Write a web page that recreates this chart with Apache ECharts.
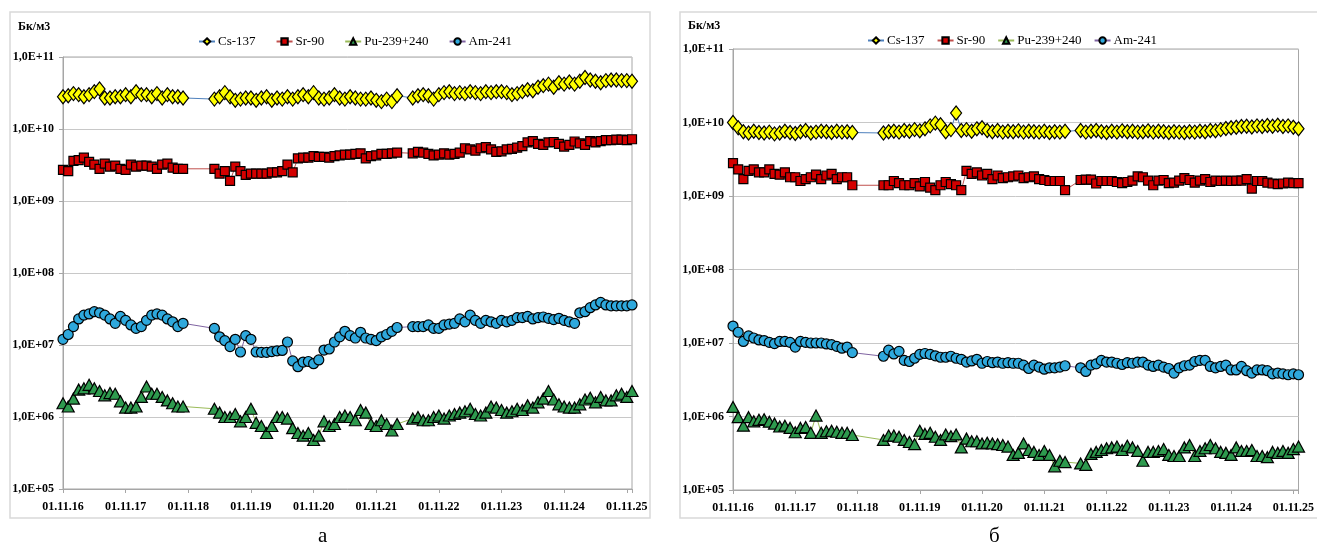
<!DOCTYPE html>
<html>
<head>
<meta charset="utf-8">
<script src="https://cdn.jsdelivr.net/npm/echarts@6/dist/echarts.min.js"></script>
<style>
html,body{margin:0;padding:0;background:#fff}
#chart{width:1317px;height:549px}
</style>
</head>
<body>
<div id="chart"></div>
<script>
// monthly samples, gaps between the periods
var periods = [['2016-11','2018-10'],['2019-04','2022-03'],['2022-06','2025-12']];
var xTickLabels = ['01.11.16','01.11.17','01.11.18','01.11.19','01.11.20','01.11.21','01.11.22','01.11.23','01.11.24','01.11.25'];
var yTickLabels = ['1,0E+05','1,0E+06','1,0E+07','1,0E+08','1,0E+09','1,0E+10','1,0E+11'];
var names = ['Cs-137','Sr-90','Pu-239+240','Am-241'];

// panel а
var csA = [2.8,2.9,3.1,3.0,2.8,3.0,3.3,3.6,2.7,2.7,2.8,2.8,3.0,2.8,3.3,3.0,3.0,2.8,3.1,2.7,3.0,2.8,2.8,2.7,
  2.6,2.8,3.2,2.8,2.5,2.6,2.7,2.7,2.5,2.7,2.8,2.5,2.7,2.6,2.8,2.6,2.8,3.0,2.8,3.2,2.7,2.6,2.7,3.0,2.7,2.6,2.8,2.7,2.6,2.6,2.7,2.5,2.4,2.6,2.4,2.9,
  2.7,2.9,3.0,2.9,2.6,3.0,3.2,3.3,3.1,3.2,3.1,3.3,3.2,3.1,3.3,3.2,3.3,3.3,3.2,3.0,3.1,3.3,3.5,3.4,3.8,4.0,4.2,3.8,4.4,4.2,4.5,4.2,4.6,5.2,4.8,4.6,4.4,4.7,4.8,4.8,4.7,4.7,4.6]; // x1e10
var srA = [2.7,2.6,3.6,3.7,4.0,3.5,3.2,2.8,3.3,3.0,3.1,2.8,2.7,3.2,3.0,3.1,3.1,3.0,2.8,3.2,3.3,2.9,2.8,2.8,
  2.8,2.4,2.6,1.9,3.0,2.6,2.3,2.4,2.4,2.4,2.4,2.5,2.5,2.6,3.2,2.5,3.9,4.0,4.0,4.2,4.1,4.1,4.0,4.2,4.3,4.4,4.4,4.5,4.6,3.9,4.2,4.3,4.5,4.5,4.6,4.7,
  4.6,4.8,4.7,4.5,4.3,4.4,4.6,4.4,4.5,4.7,5.4,5.2,5.0,5.4,5.6,5.2,4.8,4.9,5.2,5.3,5.5,5.8,6.5,6.8,6.2,6.0,6.5,6.6,6.2,5.7,6.0,6.7,6.3,6.0,6.8,6.5,6.8,7.0,7.0,7.1,7.1,7.0,7.2]; // x1e9
var puA = [1.55,1.4,1.8,2.4,2.5,2.8,2.5,2.3,2.0,2.15,2.1,1.65,1.35,1.35,1.4,1.9,2.65,2.1,2.1,1.9,1.7,1.55,1.4,1.4,
  1.3,1.15,1.0,1.0,1.1,0.87,1.0,1.3,0.83,0.75,0.6,0.75,1.0,1.0,0.95,0.7,0.6,0.55,0.6,0.48,0.55,0.87,0.75,0.8,1.0,1.05,1.0,0.9,1.25,1.15,0.8,0.75,0.9,0.8,0.65,0.8,
  0.95,1.0,0.9,0.9,1.0,1.05,0.95,1.05,1.1,1.15,1.2,1.3,1.1,1.05,1.15,1.4,1.35,1.25,1.15,1.2,1.3,1.25,1.45,1.35,1.6,1.8,2.3,1.75,1.5,1.4,1.35,1.35,1.5,1.75,1.85,1.6,1.9,1.7,1.7,2.0,2.1,1.9,2.3]; // x1e6
var amA = [1.2,1.4,1.8,2.3,2.6,2.7,2.9,2.8,2.6,2.3,2.0,2.5,2.2,1.9,1.7,1.8,2.2,2.6,2.7,2.6,2.3,2.1,1.8,2.0,
  1.7,1.3,1.15,0.95,1.2,0.8,1.35,1.2,0.8,0.79,0.79,0.81,0.83,0.84,1.1,0.6,0.5,0.58,0.59,0.55,0.62,0.85,0.88,1.1,1.3,1.55,1.35,1.25,1.5,1.25,1.2,1.15,1.3,1.4,1.55,1.75,
  1.8,1.8,1.8,1.9,1.7,1.7,1.9,1.95,2.0,2.3,2.1,2.6,2.2,2.0,2.2,2.1,2.0,2.2,2.1,2.2,2.4,2.4,2.5,2.3,2.4,2.45,2.35,2.25,2.35,2.2,2.1,2.0,2.8,2.9,3.3,3.6,3.9,3.6,3.5,3.5,3.5,3.5,3.6]; // x1e7

// panel б
var csB = [10.0,8.5,7.5,7.2,7.6,7.3,7.2,7.4,7.0,7.2,7.6,7.3,7.1,7.5,7.8,7.2,7.4,7.6,7.5,7.3,7.6,7.4,7.5,7.3,
  7.2,7.5,7.6,7.4,7.8,7.6,8.0,7.7,8.2,9.0,9.8,9.3,7.5,8.0,13.5,7.8,8.0,7.6,8.2,8.5,7.8,7.5,7.8,7.4,7.6,7.5,7.7,7.4,7.6,7.5,7.4,7.6,7.3,7.5,7.4,7.6,
  7.8,7.4,7.6,7.8,7.5,7.3,7.6,7.4,7.7,7.5,7.6,7.4,7.5,7.7,7.4,7.6,7.5,7.3,7.5,7.4,7.3,7.5,7.4,7.6,7.5,7.8,7.7,8.0,8.3,8.5,8.6,8.8,8.9,8.7,9.0,8.8,9.1,8.9,9.2,8.8,9.0,8.6,8.2]; // x1e9
var srB = [2.8,2.3,1.7,2.2,2.3,2.1,2.1,2.3,2.0,1.95,2.1,1.8,1.8,1.6,1.7,1.8,1.95,1.7,1.9,2.0,1.7,1.8,1.8,1.4,
  1.4,1.4,1.6,1.5,1.4,1.4,1.5,1.35,1.55,1.3,1.2,1.4,1.55,1.45,1.4,1.2,2.2,2.0,2.1,1.9,2.0,1.7,1.9,1.75,1.8,1.85,1.9,1.75,1.8,1.85,1.7,1.65,1.6,1.6,1.6,1.2,
  1.65,1.67,1.67,1.48,1.6,1.6,1.6,1.55,1.5,1.55,1.62,1.85,1.8,1.62,1.4,1.62,1.65,1.5,1.52,1.62,1.75,1.65,1.52,1.62,1.7,1.55,1.62,1.6,1.62,1.6,1.62,1.62,1.7,1.26,1.6,1.6,1.52,1.48,1.45,1.48,1.52,1.5,1.5]; // x1e9
var puB = [1.35,0.98,0.75,0.98,0.86,0.9,0.92,0.85,0.8,0.73,0.75,0.7,0.61,0.7,0.72,0.6,1.03,0.6,0.63,0.64,0.62,0.6,0.6,0.56,
  0.48,0.55,0.55,0.53,0.48,0.45,0.42,0.64,0.58,0.6,0.53,0.48,0.57,0.54,0.57,0.38,0.5,0.46,0.46,0.43,0.44,0.43,0.42,0.41,0.39,0.3,0.32,0.43,0.35,0.33,0.3,0.34,0.3,0.21,0.25,0.24,
  0.23,0.22,0.31,0.33,0.35,0.37,0.38,0.39,0.35,0.4,0.38,0.34,0.25,0.33,0.33,0.34,0.36,0.3,0.29,0.29,0.38,0.41,0.29,0.34,0.37,0.41,0.37,0.33,0.32,0.3,0.38,0.34,0.34,0.35,0.29,0.29,0.28,0.33,0.32,0.34,0.32,0.36,0.39]; // x1e6
var amB = [1.7,1.4,1.05,1.25,1.17,1.1,1.08,1.02,0.98,1.05,1.05,1.02,0.88,1.05,1.02,1.0,1.0,1.0,0.97,0.95,0.9,0.85,0.88,0.74,
  0.66,0.8,0.71,0.77,0.58,0.56,0.62,0.7,0.72,0.7,0.67,0.64,0.64,0.66,0.62,0.6,0.55,0.57,0.6,0.53,0.56,0.54,0.55,0.53,0.54,0.53,0.53,0.5,0.45,0.5,0.47,0.44,0.46,0.46,0.47,0.49,
  0.46,0.41,0.5,0.52,0.58,0.55,0.55,0.53,0.51,0.54,0.53,0.55,0.55,0.5,0.48,0.5,0.47,0.45,0.39,0.46,0.49,0.5,0.56,0.58,0.58,0.48,0.46,0.48,0.5,0.43,0.43,0.48,0.42,0.39,0.43,0.43,0.42,0.38,0.39,0.38,0.37,0.38,0.37]; // x1e7

function monthIndex(s){
	var p = s.split('-');
	return (p[0]-2016)*12 + (p[1]-11);
}
var months = [];
for(var k=0; k<periods.length; k++){
	for(var m=monthIndex(periods[k][0]); m<=monthIndex(periods[k][1]); m++) months.push(m);
}
function pairs(arr, unit){
	var out = [];
	for(var i=0; i<arr.length; i++) out.push([months[i], arr[i]*unit]);
	return out;
}

var font = '"Liberation Serif","Times New Roman",serif';
var styles = [
	{symbol:'diamond', size:[11,14], fill:'#ffff00', line:'#4f81bd'},
	{symbol:'rect', size:9, fill:'#d40000', line:'#c0504d'},
	{symbol:'triangle', size:[12,11], fill:'#2e9a4e', line:'#9bbb59'},
	{symbol:'circle', size:10, fill:'#2ea8dc', line:'#8064a2'}
];

function makeSeries(idx, arr, unit, g){
	var s = styles[idx];
	return {
		name: names[idx], type:'line', xAxisIndex:g, yAxisIndex:g,
		symbol: s.symbol, symbolSize: s.size, showAllSymbol:true,
		itemStyle:{color:s.fill, borderColor:'#000', borderWidth:1.2},
		lineStyle:{color:s.line, width:1},
		data: pairs(arr, unit)
	};
}

function xAxis(g){
	return {
		gridIndex:g, type:'value', min:0, max:109, interval:12,
		axisLine:{lineStyle:{color:'#a6a6a6'}},
		axisTick:{length:4, lineStyle:{color:'#a6a6a6'}},
		splitLine:{show:false},
		axisLabel:{
			fontFamily:font, fontWeight:'bold', fontSize:12, color:'#000', margin:12,
			formatter:function(v){ return v%12===0 ? xTickLabels[v/12] : ''; }
		}
	};
}
function yAxis(g){
	return {
		gridIndex:g, type:'log', logBase:10, min:1e5, max:1e11,
		axisLine:{show:true, lineStyle:{color:'#a6a6a6'}},
		axisTick:{show:true, length:4, lineStyle:{color:'#a6a6a6'}},
		minorTick:{show:false},
		splitLine:{lineStyle:{color:'#c8c8c8'}},
		axisLabel:{
			fontFamily:font, fontWeight:'bold', fontSize:12, color:'#000', margin:9,
			formatter:function(v){ return yTickLabels[Math.round(Math.log10(v))-5]; }
		}
	};
}
function legend(left, top, gap){
	return {
		data:names, left:left, top:top, itemWidth:16, itemHeight:8, itemGap:gap,
		textStyle:{fontFamily:font, fontSize:13, color:'#000', padding:[0,0,0,-2]}
	};
}

var myChart = echarts.init(document.getElementById('chart'));
var option = {
	animation:false,
	backgroundColor:'#fff',
	grid:[
		{left:63, right:685, top:57, bottom:60, show:true, borderColor:'#a6a6a6', borderWidth:1},
		{left:733, right:15, top:49, bottom:59, show:true, borderColor:'#a6a6a6', borderWidth:1}
	],
	legend:[legend(193, 30, 20), legend(862, 29, 12)],
	xAxis:[xAxis(0), xAxis(1)],
	yAxis:[yAxis(0), yAxis(1)],
	graphic:[
		{type:'rect', shape:{x:10, y:12, width:640, height:506}, style:{fill:'none', stroke:'#d9d9d9', lineWidth:1.5}, silent:true},
		{type:'rect', shape:{x:680, y:12, width:660, height:506}, style:{fill:'none', stroke:'#d9d9d9', lineWidth:1.5}, silent:true},
		{type:'text', left:18, top:21, style:{text:'Бк/м3', font:'bold 12px ' + font, fill:'#000'}},
		{type:'text', left:688, top:20, style:{text:'Бк/м3', font:'bold 12px ' + font, fill:'#000'}},
		{type:'text', left:318, top:526, style:{text:'а', font:'21px ' + font, fill:'#000'}},
		{type:'text', left:989, top:526, style:{text:'б', font:'21px ' + font, fill:'#000'}}
	],
	series:[
		makeSeries(0, csA, 1e10, 0), makeSeries(1, srA, 1e9, 0), makeSeries(2, puA, 1e6, 0), makeSeries(3, amA, 1e7, 0),
		makeSeries(0, csB, 1e9, 1), makeSeries(1, srB, 1e9, 1), makeSeries(2, puB, 1e6, 1), makeSeries(3, amB, 1e7, 1)
	]
};
myChart.setOption(option);
</script>
</body>
</html>
